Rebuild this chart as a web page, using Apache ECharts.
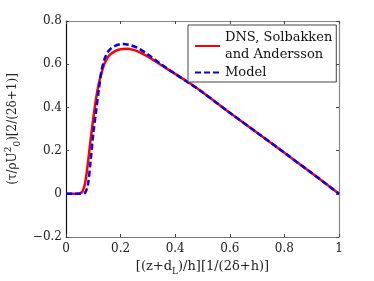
<!DOCTYPE html>
<html><head><meta charset="utf-8">
<script src="https://cdn.jsdelivr.net/npm/echarts@6/dist/echarts.min.js"></script>
<style>html,body{margin:0;padding:0;background:#fff}#c{width:374px;height:281px}</style>
</head><body><div id="c"></div>
<script>
const dnsX = [0, 0.03, 0.05, 0.06, 0.07, 0.08, 0.09, 0.1, 0.11, 0.12, 0.13, 0.14, 0.15, 0.16, 0.18, 0.2, 0.22, 0.25, 0.27, 0.3, 0.35, 0.4, 0.45, 0.5, 0.6, 0.7, 0.8, 0.9, 1.0];
const dnsY = [0, 0, 0.002, 0.01, 0.05, 0.14, 0.25, 0.35, 0.44, 0.51, 0.56, 0.6, 0.625, 0.643, 0.661, 0.669, 0.671, 0.665, 0.655, 0.635, 0.595, 0.555, 0.515, 0.47, 0.375, 0.283, 0.19, 0.096, 0];
const modelX = [0, 0.03, 0.06, 0.07, 0.08, 0.09, 0.1, 0.11, 0.12, 0.13, 0.14, 0.15, 0.16, 0.18, 0.2, 0.21, 0.23, 0.25, 0.27, 0.3, 0.35, 0.4, 0.45, 0.5, 0.6, 0.7, 0.8, 0.9, 1.0];
const modelY = [0, 0, 0, 0.005, 0.04, 0.15, 0.28, 0.38, 0.48, 0.57, 0.62, 0.65, 0.667, 0.685, 0.693, 0.694, 0.69, 0.682, 0.67, 0.645, 0.598, 0.555, 0.513, 0.47, 0.375, 0.283, 0.19, 0.096, 0];
const seriesNames = ['DNS, Solbakken\nand Andersson', 'Model'];
const xTicks = [0, 0.2, 0.4, 0.6, 0.8, 1];
const yTicks = [-0.2, 0, 0.2, 0.4, 0.6, 0.8];

const FONT = '"DejaVu Serif", "Liberation Serif", serif';
const pair = (xs, ys) => xs.map((x, i) => [x, ys[i]]);
const fmt = v => {
  const r = Math.round(v * 10) / 10;
  return r < 0 ? '\u2212' + String(-r) : String(r);
};
const chart = echarts.init(document.getElementById('c'), null, {renderer: 'canvas'});
const baseAxis = {
  type: 'value', splitLine: {show: false},
  axisTick: {inside: true, length: 3, lineStyle: {color: '#444', width: 1}},
};
chart.setOption({
  animation: false,
  backgroundColor: '#fff',
  grid: {left: 66, right: 35, top: 21, bottom: 44, containLabel: false, outerBoundsMode: 'none'},
  xAxis: [
    Object.assign({}, baseAxis, {
      position: 'bottom', min: xTicks[0], max: xTicks[xTicks.length - 1], interval: 0.2,
      axisLine: {onZero: false, lineStyle: {color: '#777', width: 1.2}},
      axisLabel: {color: '#222', fontFamily: FONT, fontSize: 12, margin: 6, formatter: fmt},
      name: '{a|[(z+d}{s|L}{a|)/h][1/(2δ+h)]}', nameLocation: 'middle', nameGap: 18,
      nameTextStyle: {
        fontFamily: FONT, fontSize: 13, color: '#222',
        rich: {
          a: {fontFamily: FONT, fontSize: 13, color: '#222', lineHeight: 19, verticalAlign: 'middle'},
          s: {fontFamily: FONT, fontSize: 9, color: '#222', lineHeight: 19, verticalAlign: 'bottom'}
        }
      }
    }),
    Object.assign({}, baseAxis, {
      position: 'top', min: 0, max: 1, interval: 0.2,
      axisLine: {onZero: false, lineStyle: {color: '#888', width: 1.2}},
      axisLabel: {show: false}
    })
  ],
  yAxis: [
    Object.assign({}, baseAxis, {
      position: 'left', min: yTicks[0], max: yTicks[yTicks.length - 1], interval: 0.2,
      axisLine: {show: true, onZero: false, lineStyle: {color: '#111', width: 1.2}},
      axisLabel: {color: '#222', fontFamily: FONT, fontSize: 12, margin: 4, formatter: fmt},
      name: '{a|(τ/ρU}{p|2}{b|0}{a|)[2/(2δ+1)]}', nameLocation: 'middle', nameGap: 43, nameRotate: 90,
      nameTextStyle: {
        fontFamily: FONT, fontSize: 12, color: '#222',
        rich: {
          a: {fontFamily: FONT, fontSize: 12, color: '#222', lineHeight: 18, verticalAlign: 'middle'},
          p: {fontFamily: FONT, fontSize: 9, color: '#222', lineHeight: 18, verticalAlign: 'top'},
          b: {fontFamily: FONT, fontSize: 9, color: '#222', lineHeight: 18, verticalAlign: 'bottom'}
        }
      }
    }),
    Object.assign({}, baseAxis, {
      position: 'right', min: -0.2, max: 0.8, interval: 0.2,
      axisLine: {show: true, onZero: false, lineStyle: {color: '#888', width: 1.2}},
      axisLabel: {show: false}
    })
  ],
  legend: {
    left: 188, top: 25, orient: 'vertical',
    itemWidth: 25, itemHeight: 14, itemGap: 1,
    padding: [4, 4, 1, 6],
    borderColor: '#444', borderWidth: 1, backgroundColor: '#fff',
    itemStyle: {opacity: 0},
    textStyle: {fontFamily: FONT, fontSize: 13, color: '#111', lineHeight: 17},
    data: seriesNames
  },
  series: [
    {
      name: seriesNames[0], type: 'line', data: pair(dnsX, dnsY), showSymbol: false, symbol: 'none',
      smooth: 0.3, lineStyle: {color: '#ff0000', width: 2.5}, itemStyle: {color: '#ff0000'}, z: 2
    },
    {
      name: seriesNames[1], type: 'line', data: pair(modelX, modelY), showSymbol: false, symbol: 'none',
      smooth: 0.3, lineStyle: {color: '#0000ff', width: 2.5, type: [6, 3]}, itemStyle: {color: '#0000ff'}, z: 3
    }
  ]
});
</script>
</body></html>
